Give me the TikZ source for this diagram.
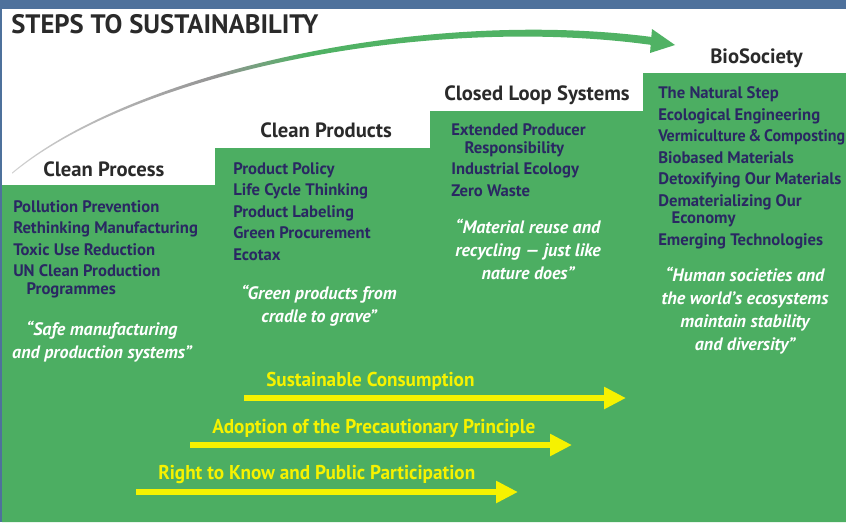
\documentclass[tikz,border=0pt]{standalone}
\usepackage{fontspec}
\setmainfont{PT Sans}
\newfontfamily\condfont[FakeStretch=0.96]{PT Sans}
\usetikzlibrary{arrows.meta}
\definecolor{framebluec}{RGB}{78,113,156}
\definecolor{stepgreen}{RGB}{76,174,98}
\definecolor{arcgreen}{RGB}{80,178,100}
\definecolor{listnavy}{RGB}{42,40,98}
\definecolor{titlegray}{RGB}{42,42,42}
\definecolor{pathyellow}{RGB}{246,242,0}
\pgfdeclarehorizontalshading{arcfade}{100bp}{color(0bp)=(black!18); color(25bp)=(black!18);
  color(41bp)=(black!42); color(48bp)=(arcgreen); color(100bp)=(arcgreen)}
\tikzset{
  steptitle/.style={font=\bfseries\fontsize{15.5}{18}\selectfont, text=titlegray, anchor=base west, inner sep=0pt},
  itemlist/.style={font=\bfseries\fontsize{12.5}{16.1}\selectfont, text=listnavy, align=left, anchor=base west, inner sep=0pt},
  motto/.style={font=\bfseries\itshape\fontsize{13.5}{17.2}\selectfont, text=white, align=center, anchor=base, inner sep=0pt},
  pathlabel/.style={font=\condfont\bfseries\fontsize{15}{17}\selectfont, text=pathyellow, anchor=base west, inner sep=0pt},
  patharrow/.style={draw=pathyellow, line width=4.5pt, -{Triangle[width=15.75pt,length=16.5pt]}},
}

\begin{document}
\begin{tikzpicture}[x=0.75pt, y=-0.75pt]
\useasboundingbox (0,0) rectangle (846,522);
\fill[framebluec] (0,0) rectangle (846,522);
\fill[white] (2,9) rectangle (846,522);
\fill[stepgreen] (2,522) -- (2,185) -- (215,185) -- (215,148) -- (430,148) -- (430,111)
  -- (643,111) -- (643,73) -- (846,73) -- (846,522) -- cycle;
\shade[shading=arcfade] (12,172.6) .. controls (130,73) and (420,7) .. (652,37)
  -- (652,45) .. controls (420,13) and (130,75.5) .. (12.5,173.5) -- cycle;
\fill[arcgreen] (652,29) -- (675,45) -- (650,53) -- cycle;
\node[steptitle, font=\bfseries\fontsize{20}{24}\selectfont] (title) at (11,33) {STEPS TO SUSTAINABILITY};
\node[steptitle] (process) at (43,176) {Clean Process};
\node[steptitle] (products) at (260,137) {Clean Products};
\node[steptitle] (loop) at (444,100) {Closed Loop Systems};
\node[steptitle] (bio) at (710,63) {BioSociety};
\node[itemlist] (processlist) at (13,294) {Pollution Prevention\\Rethinking Manufacturing\\Toxic Use Reduction\\
  UN Clean Production\\[-3pt]\hspace*{10pt}Programmes};
\node[itemlist] (productslist) at (233,260) {Product Policy\\Life Cycle Thinking\\Product Labeling\\Green Procurement\\Ecotax};
\node[itemlist] (looplist) at (451,196) {Extended Producer\\[-3pt]\hspace*{10pt}Responsibility\\Industrial Ecology\\Zero Waste};
\node[itemlist] (biolist) at (658,245) {The Natural Step\\Ecological Engineering\\
  \scalebox{0.96}[1]{Vermiculture\,\&\,Composting}\\Biobased Materials\\
  Detoxifying Our Materials\\Dematerializing Our\\[-3pt]\hspace*{10pt}Economy\\Emerging Technologies};
\node[motto] (processmotto) at (102,358) {“Safe manufacturing\\and production systems”};
\node[motto] (productsmotto) at (319,322) {“Green products from\\cradle to grave”};
\node[motto] (loopmotto) at (528,279) {“Material reuse and\\recycling — just like\\nature does”};
\node[motto] (biomotto) at (745,350) {“Human societies and\\the world’s ecosystems\\maintain stability\\and diversity”};
\coordinate (consA) at (244,398);
\coordinate (consB) at (626,398);
\coordinate (precA) at (190,445);
\coordinate (precB) at (572,445);
\coordinate (knowA) at (136,492);
\coordinate (knowB) at (518,492);
\draw[patharrow] (consA) -- (consB);
\draw[patharrow] (precA) -- (precB);
\draw[patharrow] (knowA) -- (knowB);
\node[pathlabel] (cons) at (266,386) {Sustainable Consumption};
\node[pathlabel] (prec) at (212,433) {Adoption of the Precautionary Principle};
\node[pathlabel] (know) at (158,479) {Right to Know and Public Participation};
\end{tikzpicture}
\end{document}
